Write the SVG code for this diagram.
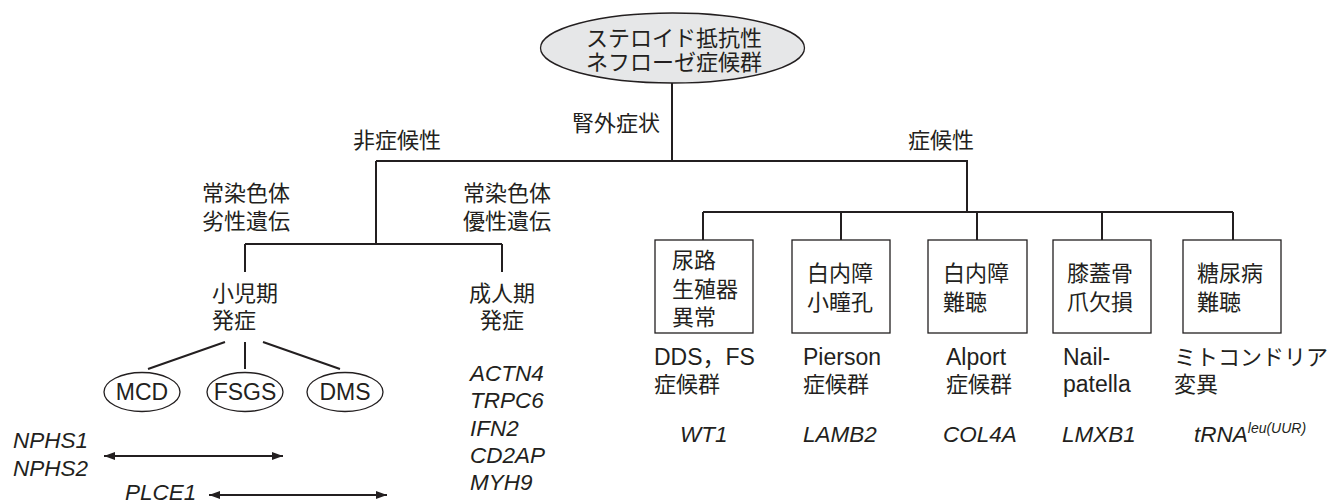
<svg xmlns="http://www.w3.org/2000/svg" width="1332" height="503" viewBox="0 0 1332 503">
<style>
text{font-family:"Liberation Sans","Noto Sans CJK JP",sans-serif;font-size:22px;fill:#231f20}
.c{text-anchor:middle}
.i{font-style:italic;font-size:22.5px}
.l{font-size:23px}
.ln{fill:none;stroke:#231f20;stroke-width:2}
.box{fill:#fff;stroke:#231f20;stroke-width:1.3}
.ell{fill:#fff;stroke:#231f20;stroke-width:1.3}
</style>
<defs>
<marker id="ah" markerUnits="userSpaceOnUse" markerWidth="12" markerHeight="10" refX="11" refY="5" orient="auto-start-reverse">
<path d="M0,1 L11,5 L0,9 Z" fill="#231f20"/>
</marker>
</defs>
<rect width="1332" height="503" fill="#fff"/>
<g id="connectors">
<path class="ln" d="M672,83 V161 M376,161 H967 V212 M703,212 H1233 M703,212 V240 M841,212 V240 M977,212 V240 M1102,212 V240 M1233,212 V240"/>
<path class="ln" d="M376,161 V244 M245,244 H502 M245,244 V272 M502,244 V272"/>
<path class="ln" d="M225,342 L148,369 M245,342 V369 M263,342 L340,369"/>
<line class="ln" x1="104" y1="456" x2="283" y2="456" marker-start="url(#ah)" marker-end="url(#ah)"/>
<line class="ln" x1="209" y1="495" x2="387" y2="495" marker-start="url(#ah)" marker-end="url(#ah)"/>
</g>
<g id="root">
<ellipse cx="672.5" cy="48" rx="132" ry="35" fill="#e6e7e8" stroke="#231f20" stroke-width="1.3"/>
<text class="c" x="674" y="46">ステロイド抵抗性</text>
<text class="c" x="674" y="70">ネフローゼ症候群</text>
</g>
<g id="labels">
<text x="572" y="131">腎外症状</text>
<text x="353" y="148">非症候性</text>
<text x="908" y="148">症候性</text>
</g>
<g id="ar">
<text x="202" y="201">常染色体</text>
<text x="202" y="229">劣性遺伝</text>
</g>
<g id="ad">
<text x="463" y="201">常染色体</text>
<text x="463" y="229">優性遺伝</text>
</g>
<g id="child">
<text x="212" y="301">小児期</text>
<text x="212" y="328">発症</text>
</g>
<g id="adult">
<text class="c" x="502" y="301">成人期</text>
<text class="c" x="502" y="328">発症</text>
</g>
<g id="mcd"><ellipse class="ell" cx="142" cy="392" rx="38" ry="19.5"/><text class="c l" x="142" y="400">MCD</text></g>
<g id="fsgs"><ellipse class="ell" cx="245" cy="392" rx="38" ry="19.5"/><text class="c l" x="245" y="400">FSGS</text></g>
<g id="dms"><ellipse class="ell" cx="345" cy="392" rx="38" ry="19.5"/><text class="c l" x="345" y="400">DMS</text></g>
<g id="genes-left">
<text class="i" x="13" y="448">NPHS1</text>
<text class="i" x="13" y="476">NPHS2</text>
<text class="i" x="125" y="500">PLCE1</text>
</g>
<g id="genes-adult">
<text class="i" x="470" y="381">ACTN4</text>
<text class="i" x="470" y="408">TRPC6</text>
<text class="i" x="470" y="436">IFN2</text>
<text class="i" x="470" y="463">CD2AP</text>
<text class="i" x="470" y="490">MYH9</text>
</g>
<g id="box1">
<rect class="box" x="655" y="240" width="98" height="93"/>
<text x="672" y="268">尿路</text>
<text x="672" y="297">生殖器</text>
<text x="672" y="325">異常</text>
<text class="l" x="654" y="365">DDS，FS</text>
<text x="654" y="392">症候群</text>
<text class="i" x="680" y="442">WT1</text>
</g>
<g id="box2">
<rect class="box" x="792" y="240" width="98" height="93"/>
<text x="807" y="281">白内障</text>
<text x="807" y="310">小瞳孔</text>
<text class="l" x="803" y="365">Pierson</text>
<text x="803" y="392">症候群</text>
<text class="i" x="803" y="442">LAMB2</text>
</g>
<g id="box3">
<rect class="box" x="928" y="240" width="99" height="93"/>
<text x="943" y="281">白内障</text>
<text x="943" y="310">難聴</text>
<text class="l" x="946" y="365">Alport</text>
<text x="946" y="392">症候群</text>
<text class="i" x="943" y="442">COL4A</text>
</g>
<g id="box4">
<rect class="box" x="1053" y="240" width="98" height="93"/>
<text x="1067" y="281">膝蓋骨</text>
<text x="1067" y="310">爪欠損</text>
<text class="l" x="1063" y="365">Nail-</text>
<text class="l" x="1063" y="392">patella</text>
<text class="i" x="1062" y="442">LMXB1</text>
</g>
<g id="box5">
<rect class="box" x="1183" y="240" width="98" height="93"/>
<text x="1197" y="281">糖尿病</text>
<text x="1197" y="310">難聴</text>
<text x="1174" y="365">ミトコンドリア</text>
<text x="1174" y="392">変異</text>
<text class="i" x="1194" y="442">tRNA<tspan font-size="14" dy="-9">leu(UUR)</tspan></text>
</g>
</svg>
